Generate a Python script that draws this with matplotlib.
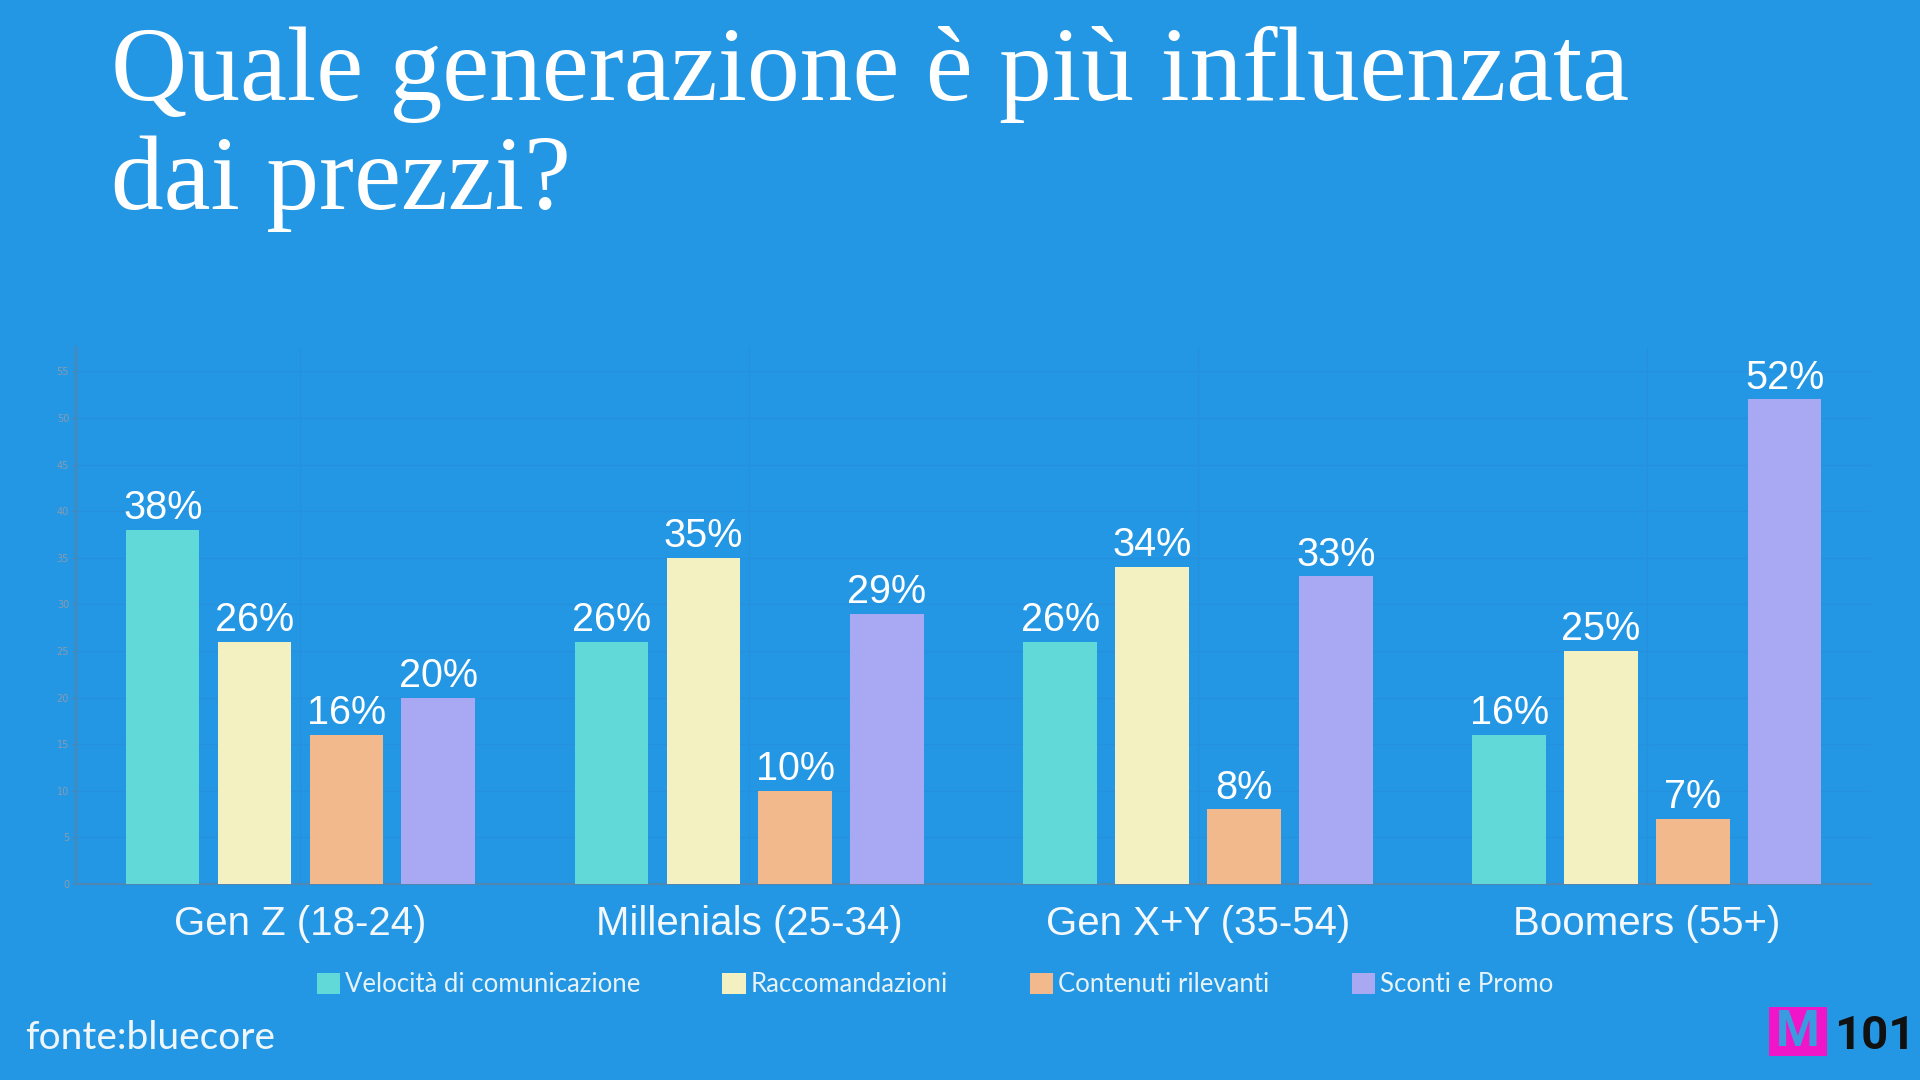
import numpy as np
import matplotlib.pyplot as plt
from matplotlib.patches import Rectangle

# Daten
gruppen = ['Gen Z (18-24)', 'Millenials (25-34)', 'Gen X+Y (35-54)', 'Boomers (55+)']
serien = ['Velocità di comunicazione', 'Raccomandazioni', 'Contenuti rilevanti', 'Sconti e Promo']
velocita = [38, 26, 26, 16]
raccomandazioni = [26, 35, 34, 25]
contenuti = [16, 10, 8, 7]
sconti = [20, 29, 33, 52]
yticks = list(range(0, 60, 5))

werte = [velocita, raccomandazioni, contenuti, sconti]
farben = ['#62D9D9', '#F3F0C2', '#F2B98D', '#A9A8F3']
bg = '#2397E4'

fig = plt.figure(figsize=(19.2, 10.8), dpi=100, facecolor=bg)
ax = fig.add_axes([0.0396, 0.1815, 0.935, 0.497])
ax.set_facecolor(bg)

x = np.arange(len(gruppen))
breite = 0.164
schritt = 0.2046
bars_list = []
for i, (name, v, c) in enumerate(zip(serien, werte, farben)):
    pos = x + (i - 1.5) * schritt
    bars = ax.bar(pos, v, breite, color=c, label=name, zorder=3)
    bars_list.append(bars)
    for xp, val in zip(pos, v):
        ax.annotate(f'{val}%', (xp, val), xytext=(0, 2), textcoords='offset points',
                    ha='center', va='bottom', fontsize=28.5, color='white',
                    family='Liberation Sans', zorder=4)

ax.set_xlim(-0.5, 3.5)
ax.set_ylim(0, 57.6)
ax.set_yticks(yticks)
ax.set_yticklabels([str(t) for t in yticks], fontsize=7, color='#8a9bb0')
ax.set_xticks(x)
ax.set_xticklabels(gruppen, fontsize=29, color='#F4F8FB', family='Liberation Sans')
ax.tick_params(axis='x', length=0, pad=15)
ax.tick_params(axis='y', length=3, color='#4f86b2', pad=2)

ax.grid(True, color='#2590dc', lw=1, zorder=0)
for s in ['top', 'right']:
    ax.spines[s].set_visible(False)
for s in ['left', 'bottom']:
    ax.spines[s].set_color('#4f86b2')
    ax.spines[s].set_linewidth(1.5)

# Legende
leg = fig.legend(handles=bars_list, loc='center', bbox_to_anchor=(0.487, 0.088), ncol=4,
                 frameon=False, handlelength=0.9, handleheight=0.9,
                 handletextpad=0.2, columnspacing=3.2,
                 prop={'family': 'Lato', 'size': 18.5})
for t in leg.get_texts():
    t.set_color('#E6F2F6')

# Titel
fig.text(0.058, 0.976, 'Quale generazione è più influenzata\ndai prezzi?', ha='left', va='top',
         fontsize=76, color='white', family='Liberation Serif', linespacing=1.17)

# Quelle
fig.text(0.013, 0.039, 'fonte:bluecore', ha='left', va='center', fontsize=28,
         color='#EEF6FA', family='Lato')

# Logo
fig.patches.append(Rectangle((1769 / 1920, 1 - 1056 / 1080), 58 / 1920, 49 / 1080,
                             transform=fig.transFigure, facecolor='#F015C8', edgecolor='none'))
fig.text(1798 / 1920, 1 - 1032 / 1080, 'M', ha='center', va='center', fontsize=36,
         color='#3A9BE0', weight='bold', family='Roboto')
fig.text(1834 / 1920, 1 - 1036 / 1080, '101', ha='left', va='center', fontsize=34,
         color='#111111', weight='bold', family='Roboto')

fig.savefig('out.png', dpi=100, facecolor=bg)
